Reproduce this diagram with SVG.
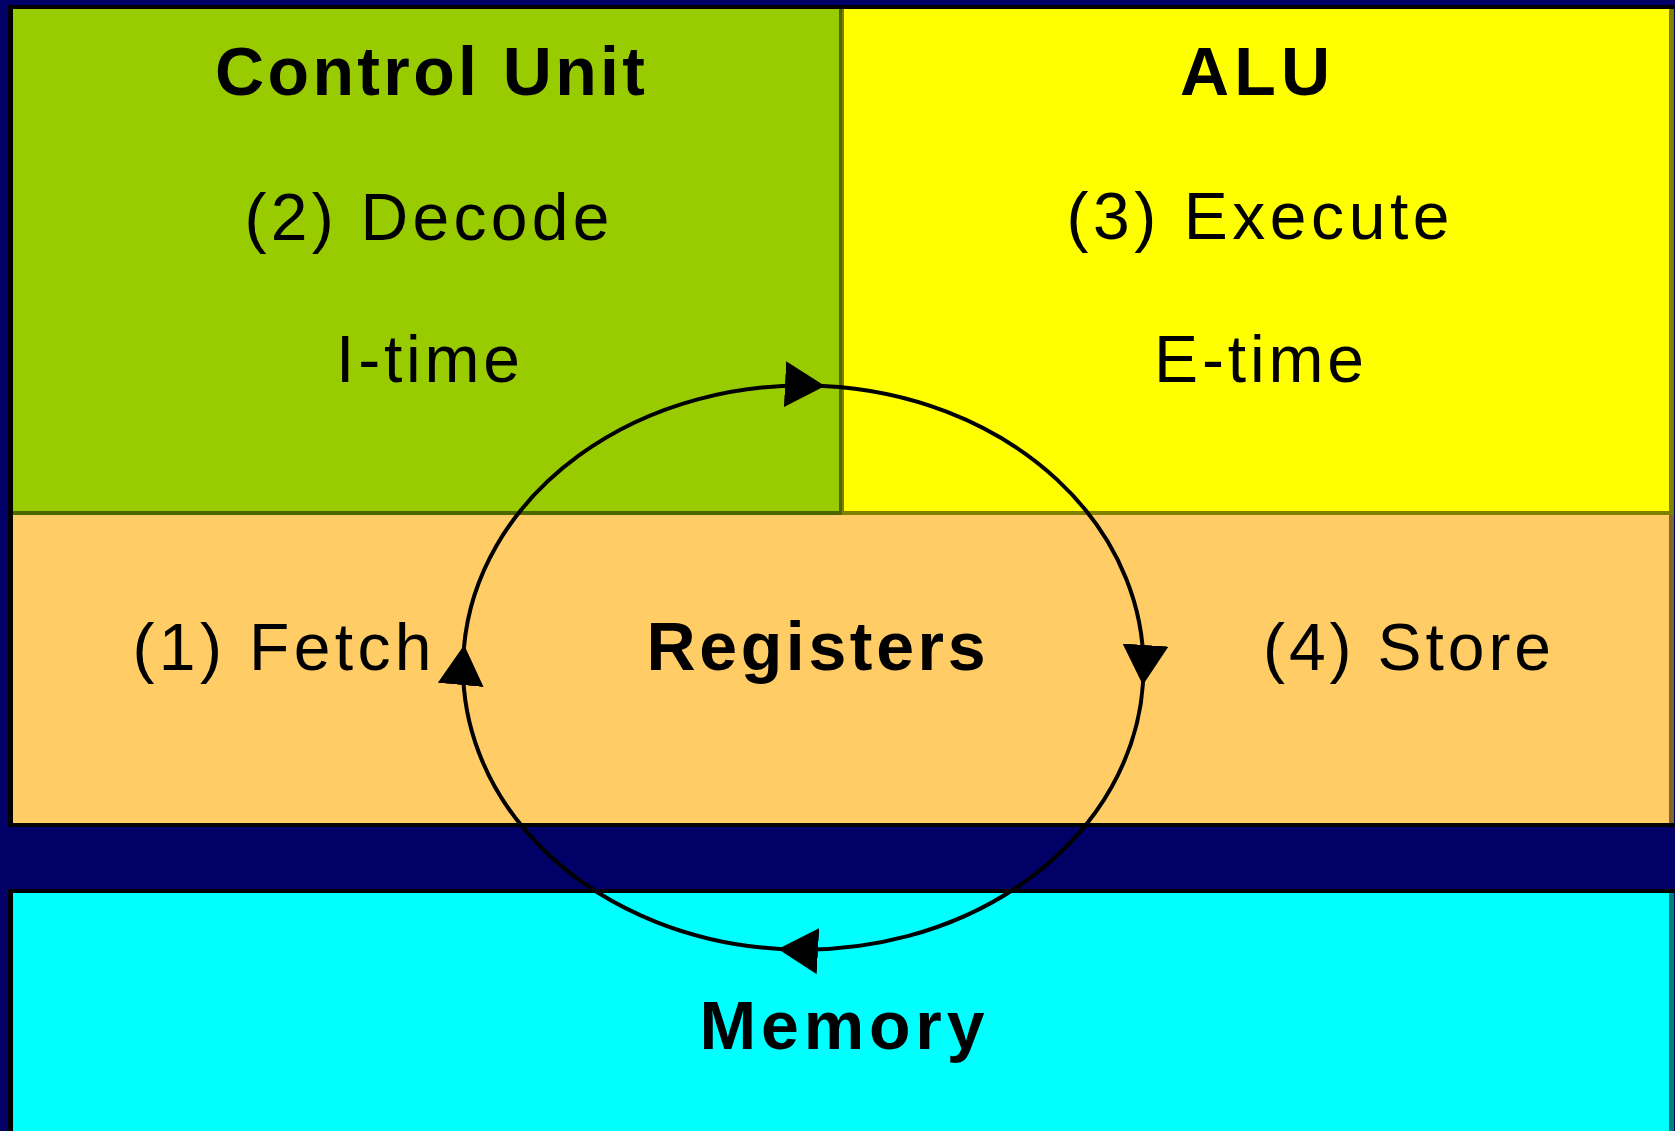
<svg xmlns="http://www.w3.org/2000/svg" width="1675" height="1131" viewBox="0 0 1675 1131">
  <defs>
    <style>
      .lbl { font-family: "Liberation Sans", Arial, sans-serif; font-size: 66px; fill: #000; text-anchor: middle; }
      .bold { font-weight: bold; font-size: 68px; }
      .shade { fill: #000; fill-opacity: 0.5; }
      .edge { fill: #000; }
      .cycle { fill: none; stroke: #000; stroke-width: 4; }
    </style>
    <marker id="arrow" markerUnits="userSpaceOnUse" markerWidth="42" markerHeight="48" refX="38" refY="23" orient="auto" viewBox="0 0 42 48">
      <path d="M0,0 L40,23 L0,46 z" fill="#000"/>
    </marker>
  </defs>

  <rect x="0" y="0" width="1675" height="1131" fill="#000066"/>

  <g id="control-unit">
    <rect x="13" y="9" width="829" height="506" fill="#99CC00"/>
    <text class="lbl bold" x="430" y="95" textLength="430" lengthAdjust="spacing">Control Unit</text>
    <text class="lbl" x="427" y="240" textLength="365" lengthAdjust="spacing">(2) Decode</text>
    <text class="lbl" x="428" y="382" textLength="184" lengthAdjust="spacing">I-time</text>
  </g>

  <g id="alu">
    <rect x="842" y="9" width="832" height="506" fill="#FFFF00"/>
    <text class="lbl bold" x="1255" y="95" textLength="150" lengthAdjust="spacing">ALU</text>
    <text class="lbl" x="1258" y="239" textLength="383" lengthAdjust="spacing">(3) Execute</text>
    <text class="lbl" x="1259" y="382" textLength="210" lengthAdjust="spacing">E-time</text>
  </g>

  <g id="registers">
    <rect x="13" y="515" width="1661" height="308" fill="#FFCC66"/>
    <text class="lbl" x="282" y="670" textLength="299" lengthAdjust="spacing">(1) Fetch</text>
    <text class="lbl bold" x="816" y="670" textLength="339" lengthAdjust="spacing">Registers</text>
    <text class="lbl" x="1407" y="670" textLength="288" lengthAdjust="spacing">(4) Store</text>
  </g>

  <g id="memory">
    <rect x="13" y="893" width="1661" height="238" fill="#00FFFF"/>
    <text class="lbl bold" x="842" y="1049" textLength="285" lengthAdjust="spacing">Memory</text>
  </g>

  <g id="frame">
    <rect class="edge" x="8" y="5" width="1667" height="4"/>
    <rect class="edge" x="8" y="5" width="5" height="822"/>
    <rect class="edge" x="8" y="823" width="1667" height="4"/>
    <rect class="edge" x="8" y="889" width="1667" height="4"/>
    <rect class="edge" x="8" y="889" width="5" height="242"/>
    <rect class="shade" x="839" y="9" width="5" height="502"/>
    <rect class="shade" x="13" y="511" width="1656" height="4"/>
    <rect class="shade" x="1669" y="9" width="5" height="814"/>
    <rect class="shade" x="1669" y="893" width="5" height="238"/>
  </g>

  <g id="connectors">
    <path class="cycle" d="M 464 647 A 340 282 0 0 1 823 386" marker-end="url(#arrow)"/>
    <path class="cycle" d="M 823 386 A 340 282 0 0 1 1143 683" marker-end="url(#arrow)"/>
    <path class="cycle" d="M 1143 683 A 340 282 0 0 1 780 949" marker-end="url(#arrow)"/>
    <path class="cycle" d="M 780 949 A 340 282 0 0 1 464 647" marker-end="url(#arrow)"/>
  </g>
</svg>
